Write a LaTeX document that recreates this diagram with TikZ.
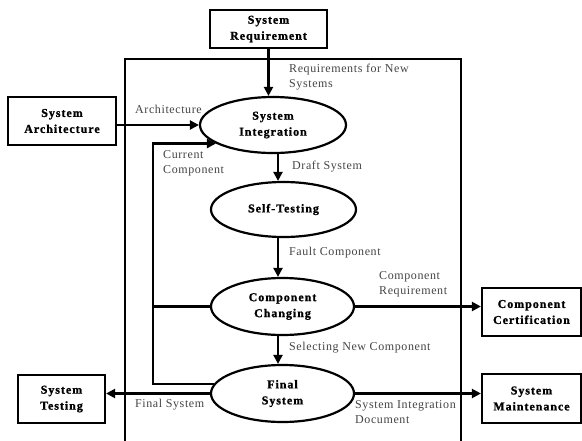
\documentclass[tikz,border=0pt]{standalone}
\usepackage{fontspec}
\setmainfont{Liberation Serif}
\newfontfamily\labfont[LetterSpace=5]{Liberation Serif}
\newfontfamily\boxfont[LetterSpace=8,FakeBold=1.2]{Liberation Serif Bold}
\usetikzlibrary{arrows.meta,shapes.geometric}
\definecolor{labgray}{HTML}{444444}
\tikzset{
  box/.style={draw, line width=2.2pt, rectangle, inner sep=0pt, align=center,
    font=\boxfont\fontsize{12}{16}\selectfont},
  proc/.style={draw, line width=2.2pt, ellipse, inner sep=0pt, align=center,
    font=\boxfont\fontsize{12}{16}\selectfont},
  flow/.style={line width=2.2pt, -{Triangle[length=9pt,width=9pt]}},
  plain/.style={line width=2.2pt},
  lab/.style={anchor=west, inner sep=0pt, align=left, text=labgray,
    font=\labfont\fontsize{12}{15}\selectfont},
}
\begin{document}
\begin{tikzpicture}[x=1pt,y=-1pt]
\useasboundingbox (0,0) rectangle (582,440);
% outer frame
\coordinate (fbl) at (125,441);
\coordinate (ftl) at (125,59);
\coordinate (ftr) at (461,59);
\coordinate (fbr) at (461,441);
\draw[plain] (fbl) -- (ftl) -- (ftr) -- (fbr);
% boxes
\node[box, minimum width=117pt, minimum height=38pt] (SR) at (268.5,29) {System\\Requirement};
\node[box, minimum width=108pt, minimum height=48pt] (SA) at (62,121) {System\\Architecture};
\node[box, minimum width=87pt, minimum height=48pt] (ST) at (61.5,399) {System\\Testing};
\node[box, minimum width=99pt, minimum height=48pt] (CC) at (531.5,312) {Component\\Certification};
\node[box, minimum width=99pt, minimum height=49pt] (SM) at (531.5,398.5) {System\\Maintenance};
% processes
\node[proc, minimum width=146pt, minimum height=56pt] (SI) at (273,125) {System\\Integration};
\node[proc, minimum width=145pt, minimum height=55pt] (SE) at (283.5,209.5) {Self-Testing};
\node[proc, minimum width=143pt, minimum height=57pt] (CH) at (282.5,306.5) {Component\\Changing};
\node[proc, minimum width=143pt, minimum height=57pt] (FS) at (282.5,393.5) {Final\\System};
\coordinate (axis) at (278,0);
\coordinate (fb) at (153,0);
% connectors
\draw[flow] (SR.south) -- (SR.south |- SI.north);
\draw[flow] (SA.east |- SI.west) -- (SI.west);
\draw[flow] (SI.south -| axis) -- (axis |- SE.north);
\draw[flow] (SE.south -| axis) -- (axis |- CH.north);
\draw[flow] (CH.south -| axis) -- (axis |- FS.north);
\draw[flow] (FS.172) -| (fb |- SI.198) -- (SI.198);
\draw[plain] (CH.west) -- (CH.west -| fb);
\draw[flow] (CH.east) -- (CH.east -| CC.west);
\draw[flow] (FS.east) -- (FS.east -| SM.west);
\draw[flow] (FS.west) -- (FS.west -| ST.east);
% labels
\node[lab] (l1) at (289,77) {Requirements for New\\Systems};
\node[lab] (l2) at (135,109) {Architecture};
\node[lab] (l3) at (163,163) {Current\\Component};
\node[lab] (l4) at (292,167) {Draft System};
\node[lab] (l5) at (289,253) {Fault Component};
\node[lab] (l6) at (379,284) {Component\\Requirement};
\node[lab] (l7) at (289,348) {Selecting New Component};
\node[lab] (l8) at (135,405) {Final System};
\node[lab] (l9) at (355,412) {System Integration\\Document};
\end{tikzpicture}
\end{document}
